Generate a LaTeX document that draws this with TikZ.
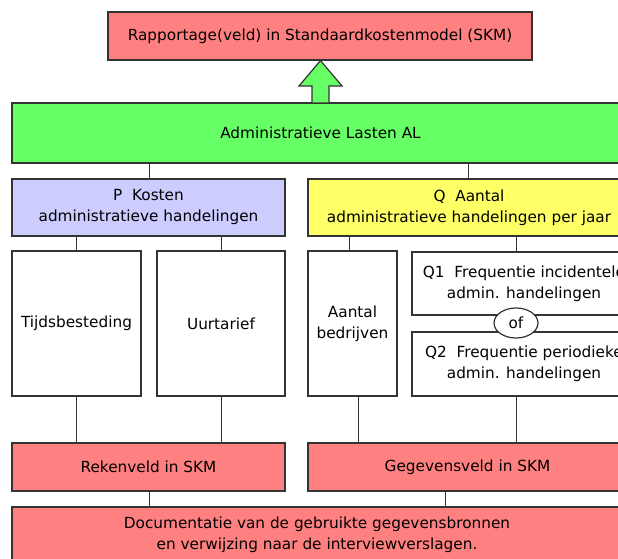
\documentclass[tikz,border=0pt]{standalone}
\usepackage{fontspec}
\setmainfont{DejaVu Sans}
\usetikzlibrary{shapes.geometric}
\definecolor{skmred}{RGB}{255,128,128}
\definecolor{algreen}{RGB}{102,255,102}
\definecolor{pblue}{RGB}{204,204,255}
\definecolor{qyellow}{RGB}{255,255,102}
\definecolor{edge}{RGB}{51,51,51}
\begin{document}
\begin{tikzpicture}[x=1pt,y=-1pt,
  box/.style={draw=edge, line width=1.2pt, rectangle, inner sep=0pt, align=center,
    font=\fontsize{15.3pt}{21pt}\selectfont},
  conn/.style={draw=edge, line width=1pt}]
\useasboundingbox (0,0) rectangle (618,559);
% top
\node[box, fill=skmred, minimum width=424pt, minimum height=48pt] (top) at (320,36)
  {Rapportage(veld) in Standaardkostenmodel (SKM)};
\node[box, fill=algreen, minimum width=617pt, minimum height=60pt] (al) at (320.5,133)
  {Administratieve Lasten AL};
% arrow
\draw[draw=edge, line width=1.2pt, fill=algreen]
  (al.north -| 312,0) -- (312,86) -- (299,86) -- (top.south -| 320.5,0) -- (342,86) -- (329,86) -- (al.north -| 329,0);
% P and Q
\node[box, fill=pblue, minimum width=273pt, minimum height=57pt] (p) at (148.5,207.5)
  {P\ \ Kosten\\administratieve handelingen};
\node[box, fill=qyellow, minimum width=322pt, minimum height=57pt] (q) at (469,207.5)
  {Q\ \ Aantal\\administratieve handelingen per jaar};
% lower boxes
\node[box, fill=white, minimum width=129pt, minimum height=145pt] (tijd) at (76.5,323.5) {Tijdsbesteding};
\node[box, fill=white, minimum width=128pt, minimum height=145pt] (uur) at (221,323.5) {Uurtarief};
\node[box, fill=white, minimum width=89pt, minimum height=145pt] (aant) at (352.5,323.5) {Aantal\\bedrijven};
\node[box, fill=white, minimum width=224pt, minimum height=63pt] (q1) at (524,283.5)
  {Q1\ \ Frequentie incidentele\\admin. handelingen};
\node[box, fill=white, minimum width=224pt, minimum height=64pt] (q2) at (524,364)
  {Q2\ \ Frequentie periodieke\\admin. handelingen};
\node[box, ellipse, fill=white, minimum width=44pt, minimum height=30pt] (of) at (516,323) {of};
% SKM fields
\node[box, fill=skmred, minimum width=273pt, minimum height=48pt] (rek) at (148.5,467) {Rekenveld in SKM};
\node[box, fill=skmred, minimum width=319pt, minimum height=48pt] (geg) at (467.5,467) {Gegevensveld in SKM};
\node[box, fill=skmred, minimum width=610pt, minimum height=56pt] (doc) at (317,535)
  {Documentatie van de gebruikte gegevensbronnen\\en verwijzing naar de interviewverslagen.};
% connectors
\draw[conn] (al.south -| 149,0) -- (p.north -| 149,0);
\draw[conn] (al.south -| 468,0) -- (q.north -| 468,0);
\draw[conn] (p.south -| tijd.north) -- (tijd.north);
\draw[conn] (p.south -| uur.north) -- (uur.north);
\draw[conn] (q.south -| 349,0) -- (aant.north -| 349,0);
\draw[conn] (q.south -| 516,0) -- (q1.north -| 516,0);
\draw[conn] (tijd.south) -- (rek.north -| tijd.south);
\draw[conn] (uur.south) -- (rek.north -| uur.south);
\draw[conn] (aant.south -| 358,0) -- (geg.north -| 358,0);
\draw[conn] (q2.south -| 516,0) -- (geg.north -| 516,0);
\draw[conn] (rek.south -| 149,0) -- (doc.north -| 149,0);
\draw[conn] (geg.south -| 445,0) -- (doc.north -| 445,0);
\end{tikzpicture}
\end{document}
